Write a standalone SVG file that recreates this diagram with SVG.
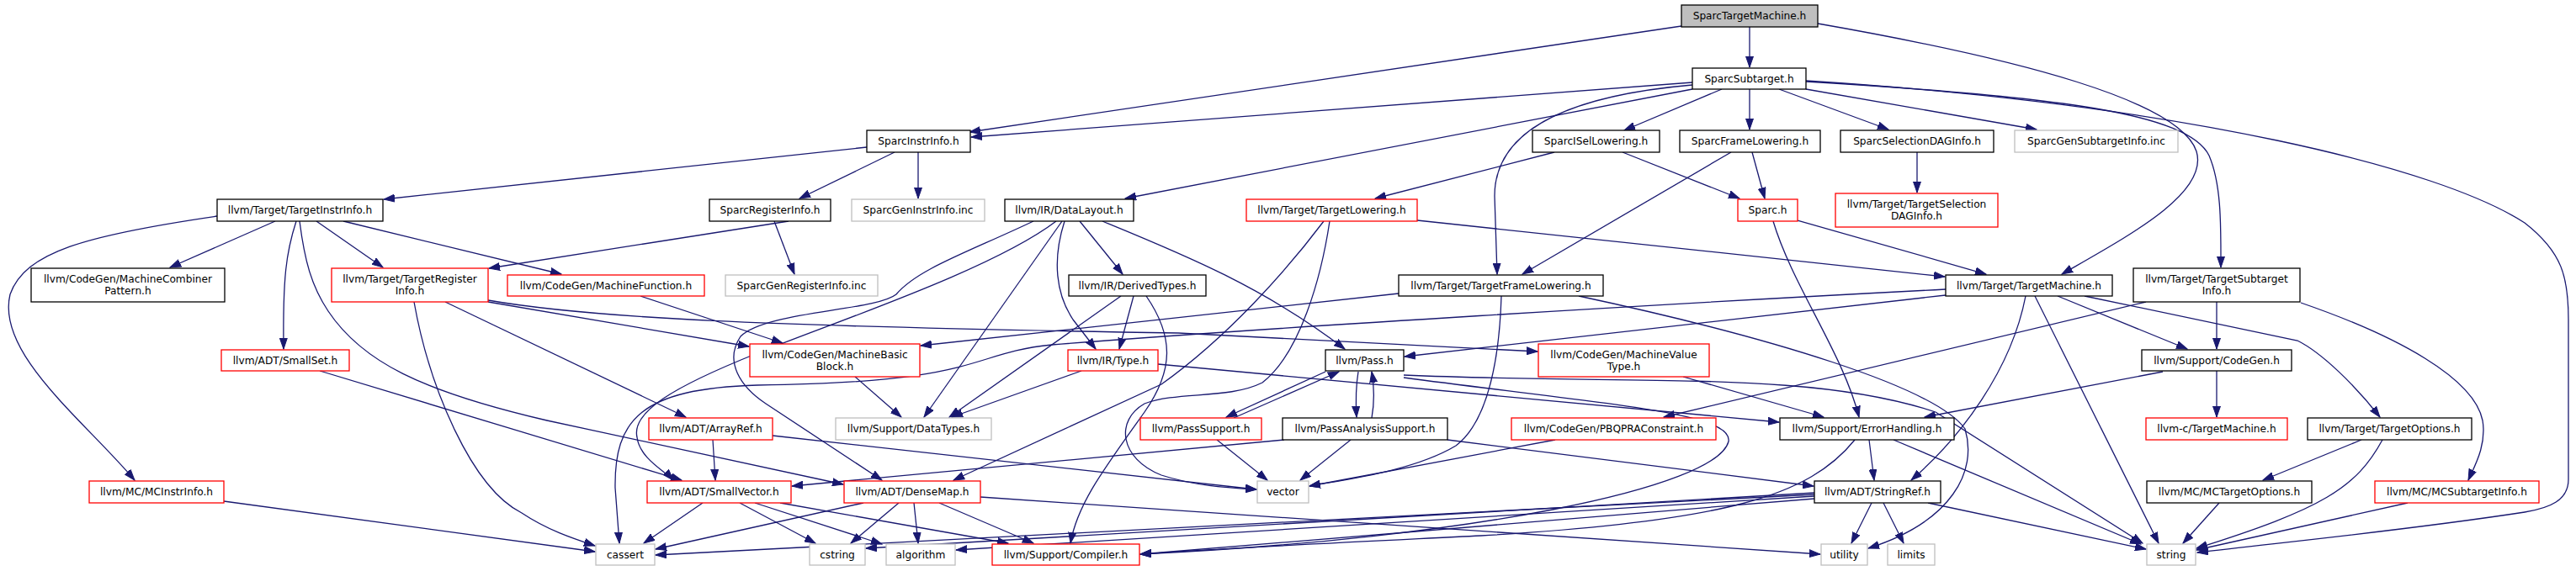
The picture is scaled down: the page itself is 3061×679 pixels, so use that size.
<svg xmlns="http://www.w3.org/2000/svg" width="3061" height="679" viewBox="0 0 3061 679">
<style>
text{font-family:"DejaVu Sans","Liberation Sans",sans-serif;font-size:12.2px;text-anchor:middle;fill:#000}
.node rect{fill:#fff;stroke:#000;stroke-width:1.3}
.node.r rect{stroke:#ff0000}
.node.g rect{stroke:#bfbfbf}
.node.root rect{fill:#bfbfbf;stroke:#000}
#edges path{fill:none;stroke:#191970;stroke-width:1.3;marker-end:url(#a)}
</style>
<defs>
<marker id="a" markerUnits="userSpaceOnUse" markerWidth="14" markerHeight="10" refX="13" refY="5" orient="auto"><path d="M0,0.5 L13,5 L0,9.5 z" fill="#191970" stroke="#191970" stroke-width="1"/></marker>
</defs>
<rect width="3061" height="679" fill="#fff"/>
<g id="edges">
<path d="M1998,31 L1152,157"/>
<path d="M2079,32 L2079,80"/>
<path d="M2160,28 C2400,70 2590,120 2610,180 C2625,230 2530,280 2450,326"/>
<path d="M2011,98 L1154,163"/>
<path d="M2011,106 L1337,236"/>
<path d="M2011,101 C1850,115 1776,160 1776,233 L1779,326"/>
<path d="M2046,106 L1930,155"/>
<path d="M2079,106 L2079,154"/>
<path d="M2114,106 L2244,154"/>
<path d="M2146,106 L2420,154"/>
<path d="M2146,97 C2450,115 2600,135 2625,185 C2640,220 2639,270 2639,318"/>
<path d="M2146,96 C2600,125 2900,200 3000,265 C3045,300 3052,330 3052,380 L3052,570 C3052,595 3030,604 3000,609 C2850,632 2700,646 2611,657"/>
<path d="M1030,175 L456,237"/>
<path d="M1063,181 L950,236"/>
<path d="M1091,181 L1091,236"/>
<path d="M327,263 L202,318"/>
<path d="M376,263 L455,318"/>
<path d="M408,263 L667,326"/>
<path d="M258,257 C100,280 30,300 12,350 C-5,420 100,500 160,571"/>
<path d="M352,263 C340,300 336,330 337,415"/>
<path d="M356,263 C362,310 370,340 390,370 C430,430 500,465 650,500 L1002,576"/>
<path d="M937,263 L581,319"/>
<path d="M920,263 L944,326"/>
<path d="M492,359 C510,460 560,580 620,610 C650,630 680,640 707,649"/>
<path d="M529,359 L815,496"/>
<path d="M580,359 L890,412"/>
<path d="M580,357 C700,378 900,388 1400,396 L1827,418"/>
<path d="M761,352 L930,408"/>
<path d="M1228,263 C1150,300 1090,320 1065,350 C1040,370 910,370 880,400 C860,430 880,460 910,480 L1048,571"/>
<path d="M1255,263 C1180,320 1000,380 900,420 C800,460 750,490 757,520 C760,545 790,560 800,571"/>
<path d="M1262,263 L1098,496"/>
<path d="M1265,263 C1250,310 1255,350 1275,380 L1302,415"/>
<path d="M1283,263 L1334,326"/>
<path d="M1310,263 C1400,300 1500,340 1598,415"/>
<path d="M1347,352 L1330,415"/>
<path d="M1332,352 L1128,496"/>
<path d="M1362,352 C1395,400 1395,440 1360,490 C1310,560 1280,600 1272,646"/>
<path d="M1285,441 L1131,496"/>
<path d="M1376,433 L2114,502"/>
<path d="M1016,448 L1071,496"/>
<path d="M1684,262 L2311,329"/>
<path d="M1573,263 C1530,320 1460,400 1380,457 L1133,571"/>
<path d="M1580,263 C1570,330 1545,420 1500,455 C1460,475 1400,465 1360,480 C1325,500 1330,545 1380,565 C1420,578 1460,580 1493,582"/>
<path d="M1847,181 L1634,236"/>
<path d="M1928,181 L2067,236"/>
<path d="M2057,181 L1809,326"/>
<path d="M2082,181 L2097,236"/>
<path d="M2278,181 L2278,229"/>
<path d="M2136,262 L2360,326"/>
<path d="M2107,263 C2130,340 2190,420 2209,496"/>
<path d="M1662,349 L1094,411"/>
<path d="M1784,352 C1782,420 1770,500 1730,530 C1680,560 1600,570 1556,578"/>
<path d="M1876,352 C2100,400 2300,460 2335,510 C2350,560 2320,620 2220,652"/>
<path d="M2312,351 L1669,424"/>
<path d="M2312,344 C2000,360 1500,390 1250,410 C1150,420 1170,455 900,458 C760,462 730,500 731,580 L736,646"/>
<path d="M2407,352 C2390,440 2330,520 2271,571"/>
<path d="M2418,352 L2565,646"/>
<path d="M2445,352 L2599,415"/>
<path d="M2477,352 L2730,405 C2760,420 2800,460 2828,496"/>
<path d="M2634,359 L2634,415"/>
<path d="M2550,359 L1977,496"/>
<path d="M2734,360 C2850,400 2940,450 2950,500 C2955,530 2940,555 2933,571"/>
<path d="M2570,442 L2287,496"/>
<path d="M2634,441 L2634,496"/>
<path d="M1575,442 L1457,496"/>
<path d="M1466,497 L1591,442"/>
<path d="M1614,442 C1611,460 1611,480 1612,496"/>
<path d="M1630,497 C1633,480 1633,460 1630,442"/>
<path d="M1668,446 C1950,458 2150,440 2300,490 L2546,646"/>
<path d="M1668,449 C1900,480 2060,490 2054,525 C2040,580 1750,640 1355,659"/>
<path d="M2000,448 L2167,496"/>
<path d="M1446,523 L1506,571"/>
<path d="M1605,523 L1545,571"/>
<path d="M1526,523 L941,578"/>
<path d="M1720,523 L2155,578"/>
<path d="M1848,523 L1556,578"/>
<path d="M2221,523 L2227,571"/>
<path d="M2204,523 C2150,590 2050,620 1760,637 C1600,645 1450,652 1355,659"/>
<path d="M2250,523 L2544,647"/>
<path d="M2806,523 L2689,571"/>
<path d="M2831,523 C2800,580 2760,605 2610,652"/>
<path d="M2637,598 L2594,646"/>
<path d="M2861,598 L2610,654"/>
<path d="M847,523 L850,571"/>
<path d="M918,518 L1493,582"/>
<path d="M380,441 L810,571"/>
<path d="M266,596 L707,656"/>
<path d="M835,598 L765,646"/>
<path d="M879,598 L969,646"/>
<path d="M897,598 L1048,647"/>
<path d="M927,598 L1198,646"/>
<path d="M1026,598 L779,653"/>
<path d="M1068,598 L1011,646"/>
<path d="M1086,598 L1091,646"/>
<path d="M1116,598 L1228,646"/>
<path d="M1165,591 L2163,659"/>
<path d="M2156,588 L779,660"/>
<path d="M2156,586 L1029,652"/>
<path d="M2156,590 L1136,654"/>
<path d="M2156,593 L1355,659"/>
<path d="M2224,598 L2200,646"/>
<path d="M2238,598 L2262,646"/>
<path d="M2291,598 L2550,653"/>
</g>
<g id="nodes">
<g id="n1" class="node root"><rect x="1998" y="6" width="162" height="26"/><text x="2079" y="23">SparcTargetMachine.h</text></g>
<g id="n2" class="node"><rect x="2011" y="81" width="135" height="25"/><text x="2078.5" y="97.5">SparcSubtarget.h</text></g>
<g id="n3" class="node"><rect x="1030" y="155" width="123" height="26"/><text x="1091.5" y="172">SparcInstrInfo.h</text></g>
<g id="n4" class="node"><rect x="1821" y="155" width="151" height="26"/><text x="1896.5" y="172">SparcISelLowering.h</text></g>
<g id="n5" class="node"><rect x="1996" y="155" width="167" height="26"/><text x="2079.5" y="172">SparcFrameLowering.h</text></g>
<g id="n6" class="node"><rect x="2187" y="155" width="182" height="26"/><text x="2278" y="172">SparcSelectionDAGInfo.h</text></g>
<g id="n7" class="node g"><rect x="2394" y="155" width="194" height="26"/><text x="2491" y="172">SparcGenSubtargetInfo.inc</text></g>
<g id="n8" class="node"><rect x="258" y="237" width="197" height="26"/><text x="356.5" y="254">llvm/Target/TargetInstrInfo.h</text></g>
<g id="n9" class="node"><rect x="843" y="237" width="144" height="26"/><text x="915" y="254">SparcRegisterInfo.h</text></g>
<g id="n10" class="node g"><rect x="1012" y="237" width="158" height="26"/><text x="1091" y="254">SparcGenInstrInfo.inc</text></g>
<g id="n11" class="node"><rect x="1194" y="237" width="153" height="26"/><text x="1270.5" y="254">llvm/IR/DataLayout.h</text></g>
<g id="n12" class="node r"><rect x="1481" y="237" width="203" height="26"/><text x="1582.5" y="254">llvm/Target/TargetLowering.h</text></g>
<g id="n13" class="node r"><rect x="2065" y="237" width="71" height="26"/><text x="2100.5" y="254">Sparc.h</text></g>
<g id="n14" class="node r"><rect x="2181" y="230" width="193" height="40"/><text x="2277.5" y="247">llvm/Target/TargetSelection</text><text x="2277.5" y="261">DAGInfo.h</text></g>
<g id="n15" class="node"><rect x="37" y="319" width="230" height="40"/><text x="152" y="336">llvm/CodeGen/MachineCombiner</text><text x="152" y="350">Pattern.h</text></g>
<g id="n16" class="node r"><rect x="394" y="319" width="186" height="40"/><text x="487" y="336">llvm/Target/TargetRegister</text><text x="487" y="350">Info.h</text></g>
<g id="n17" class="node r"><rect x="603" y="327" width="234" height="25"/><text x="720" y="343.5">llvm/CodeGen/MachineFunction.h</text></g>
<g id="n18" class="node g"><rect x="862" y="327" width="181" height="25"/><text x="952.5" y="343.5">SparcGenRegisterInfo.inc</text></g>
<g id="n19" class="node"><rect x="1270" y="327" width="163" height="25"/><text x="1351.5" y="343.5">llvm/IR/DerivedTypes.h</text></g>
<g id="n20" class="node"><rect x="1662" y="327" width="243" height="25"/><text x="1783.5" y="343.5">llvm/Target/TargetFrameLowering.h</text></g>
<g id="n21" class="node"><rect x="2312" y="327" width="198" height="25"/><text x="2411" y="343.5">llvm/Target/TargetMachine.h</text></g>
<g id="n22" class="node"><rect x="2535" y="319" width="198" height="40"/><text x="2634" y="336">llvm/Target/TargetSubtarget</text><text x="2634" y="350">Info.h</text></g>
<g id="n23" class="node r"><rect x="263" y="416" width="152" height="25"/><text x="339" y="432.5">llvm/ADT/SmallSet.h</text></g>
<g id="n24" class="node r"><rect x="891" y="409" width="202" height="39"/><text x="992" y="425.5">llvm/CodeGen/MachineBasic</text><text x="992" y="439.5">Block.h</text></g>
<g id="n25" class="node r"><rect x="1269" y="416" width="107" height="25"/><text x="1322.5" y="432.5">llvm/IR/Type.h</text></g>
<g id="n26" class="node"><rect x="1575" y="416" width="93" height="25"/><text x="1621.5" y="432.5">llvm/Pass.h</text></g>
<g id="n27" class="node r"><rect x="1828" y="409" width="203" height="39"/><text x="1929.5" y="425.5">llvm/CodeGen/MachineValue</text><text x="1929.5" y="439.5">Type.h</text></g>
<g id="n28" class="node"><rect x="2545" y="416" width="178" height="25"/><text x="2634" y="432.5">llvm/Support/CodeGen.h</text></g>
<g id="n29" class="node r"><rect x="771" y="497" width="147" height="26"/><text x="844.5" y="514">llvm/ADT/ArrayRef.h</text></g>
<g id="n30" class="node g"><rect x="993" y="497" width="185" height="26"/><text x="1085.5" y="514">llvm/Support/DataTypes.h</text></g>
<g id="n31" class="node r"><rect x="1355" y="497" width="144" height="26"/><text x="1427" y="514">llvm/PassSupport.h</text></g>
<g id="n32" class="node"><rect x="1524" y="497" width="196" height="26"/><text x="1622" y="514">llvm/PassAnalysisSupport.h</text></g>
<g id="n33" class="node r"><rect x="1796" y="497" width="243" height="26"/><text x="1917.5" y="514">llvm/CodeGen/PBQPRAConstraint.h</text></g>
<g id="n34" class="node"><rect x="2115" y="497" width="207" height="26"/><text x="2218.5" y="514">llvm/Support/ErrorHandling.h</text></g>
<g id="n35" class="node r"><rect x="2550" y="497" width="168" height="26"/><text x="2634" y="514">llvm-c/TargetMachine.h</text></g>
<g id="n36" class="node"><rect x="2742" y="497" width="195" height="26"/><text x="2839.5" y="514">llvm/Target/TargetOptions.h</text></g>
<g id="n37" class="node r"><rect x="106" y="572" width="160" height="26"/><text x="186" y="589">llvm/MC/MCInstrInfo.h</text></g>
<g id="n38" class="node r"><rect x="769" y="572" width="171" height="26"/><text x="854.5" y="589">llvm/ADT/SmallVector.h</text></g>
<g id="n39" class="node r"><rect x="1003" y="572" width="162" height="26"/><text x="1084" y="589">llvm/ADT/DenseMap.h</text></g>
<g id="n40" class="node g"><rect x="1494" y="572" width="61" height="26"/><text x="1524.5" y="589">vector</text></g>
<g id="n41" class="node"><rect x="2156" y="572" width="150" height="26"/><text x="2231" y="589">llvm/ADT/StringRef.h</text></g>
<g id="n42" class="node"><rect x="2551" y="572" width="196" height="26"/><text x="2649" y="589">llvm/MC/MCTargetOptions.h</text></g>
<g id="n43" class="node r"><rect x="2822" y="572" width="195" height="26"/><text x="2919.5" y="589">llvm/MC/MCSubtargetInfo.h</text></g>
<g id="n44" class="node g"><rect x="708" y="647" width="70" height="25"/><text x="743" y="663.5">cassert</text></g>
<g id="n45" class="node g"><rect x="962" y="647" width="66" height="25"/><text x="995" y="663.5">cstring</text></g>
<g id="n46" class="node g"><rect x="1053" y="647" width="82" height="25"/><text x="1094" y="663.5">algorithm</text></g>
<g id="n47" class="node r"><rect x="1179" y="647" width="175" height="25"/><text x="1266.5" y="663.5">llvm/Support/Compiler.h</text></g>
<g id="n48" class="node g"><rect x="2164" y="647" width="55" height="25"/><text x="2191.5" y="663.5">utility</text></g>
<g id="n49" class="node g"><rect x="2243" y="647" width="56" height="25"/><text x="2271" y="663.5">limits</text></g>
<g id="n50" class="node g"><rect x="2551" y="647" width="58" height="25"/><text x="2580" y="663.5">string</text></g>
</g>
</svg>
